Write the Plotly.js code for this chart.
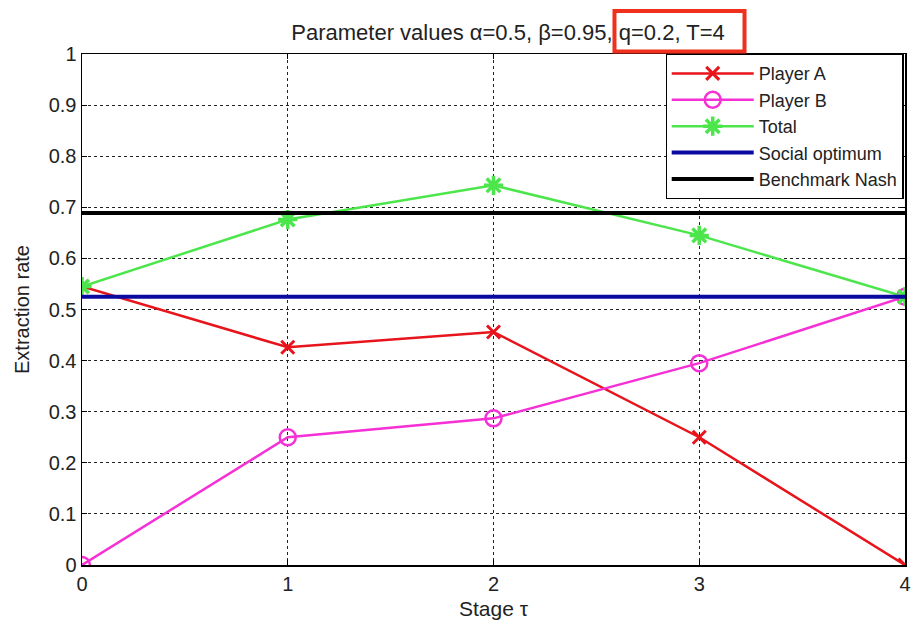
<!DOCTYPE html>
<html>
<head>
<meta charset="utf-8">
<script src="https://cdn.plot.ly/plotly-3.0.1.min.js"></script>
<style>html,body{margin:0;padding:0;background:#fff;}#chart{width:922px;height:635px;}</style>
</head>
<body>
<div id="chart"></div>
<script>
const stages = [0, 1, 2, 3, 4];
const playerA = [0.545, 0.426, 0.456, 0.250, 0.000];
const playerB = [0.000, 0.250, 0.287, 0.395, 0.525];
const total = [0.545, 0.676, 0.743, 0.645, 0.525];
const socialOptimum = 0.525;
const benchmarkNash = 0.689;
const yTicks = [0, 0.1, 0.2, 0.3, 0.4, 0.5, 0.6, 0.7, 0.8, 0.9, 1];
const yTickLabels = ['0', '0.1', '0.2', '0.3', '0.4', '0.5', '0.6', '0.7', '0.8', '0.9', '1'];

const FONT = 'Liberation Sans, Arial, sans-serif';
const TXT = '#222';

const traces = [
  {x: stages, y: playerA, name: 'Player A', mode: 'lines+markers',
   line: {color: '#e8141c', width: 2.5},
   marker: {symbol: 'x-thin-open', size: 13, line: {color: '#e8141c', width: 3}}},
  {x: stages, y: playerB, name: 'Player B', mode: 'lines+markers',
   line: {color: '#f531d6', width: 2.5},
   marker: {symbol: 'circle-open', size: 16, color: '#f531d6', line: {color: '#f531d6', width: 2.5}}},
  {x: stages, y: total, name: 'Total', mode: 'lines+markers',
   line: {color: '#4ce64c', width: 2.5},
   marker: {symbol: 'asterisk-open', size: 16, line: {color: '#4ce64c', width: 3.5}}},
  {x: [stages[0], stages[stages.length - 1]], y: [socialOptimum, socialOptimum], name: 'Social optimum', mode: 'lines',
   line: {color: '#0a0aa0', width: 4}},
  {x: [stages[0], stages[stages.length - 1]], y: [benchmarkNash, benchmarkNash], name: 'Benchmark Nash', mode: 'lines',
   line: {color: '#000000', width: 4}}
];

const axisCommon = {
  showline: true, linecolor: '#000', linewidth: 1.5, mirror: 'ticks',
  ticks: 'inside', ticklen: 5, tickcolor: '#000', tickwidth: 1,
  showgrid: true, gridcolor: '#222', griddash: 'dot', gridwidth: 1,
  zeroline: false,
  tickfont: {family: FONT, size: 20, color: TXT}
};

const layout = {
  width: 922, height: 635,
  margin: {l: 82, r: 17, t: 54, b: 70},
  paper_bgcolor: '#fff', plot_bgcolor: '#fff',
  title: {text: 'Parameter values \u03b1=0.5, \u03b2=0.95, q=0.2, T=4',
          font: {family: FONT, size: 22, color: TXT},
          x: 0.551, xanchor: 'center', y: 0.949, yanchor: 'middle'},
  xaxis: Object.assign({}, axisCommon, {
    range: [0, 4], tickvals: stages, ticktext: stages.map(String),
    title: {text: 'Stage \u03c4', font: {family: FONT, size: 21, color: TXT}, standoff: 8}
  }),
  yaxis: Object.assign({}, axisCommon, {
    range: [0, 1], tickvals: yTicks, ticktext: yTickLabels,
    title: {text: 'Extraction rate', font: {family: FONT, size: 20, color: TXT}, standoff: 13}
  }),
  legend: {x: 0.709, xanchor: 'left', y: 1, yanchor: 'top',
           bgcolor: '#fff', bordercolor: '#000', borderwidth: 1.2,
           font: {family: FONT, size: 18, color: TXT},
           tracegroupgap: 0, itemwidth: 82},
  shapes: [{type: 'rect', xref: 'paper', yref: 'paper', x0: 0.647, x1: 0.805, y0: 1.005, y1: 1.084,
            line: {color: '#f0301c', width: 4}, fillcolor: 'rgba(0,0,0,0)', layer: 'above'}],
  showlegend: true
};

Plotly.newPlot('chart', traces, layout, {displayModeBar: false, staticPlot: true});
</script>
</body>
</html>
